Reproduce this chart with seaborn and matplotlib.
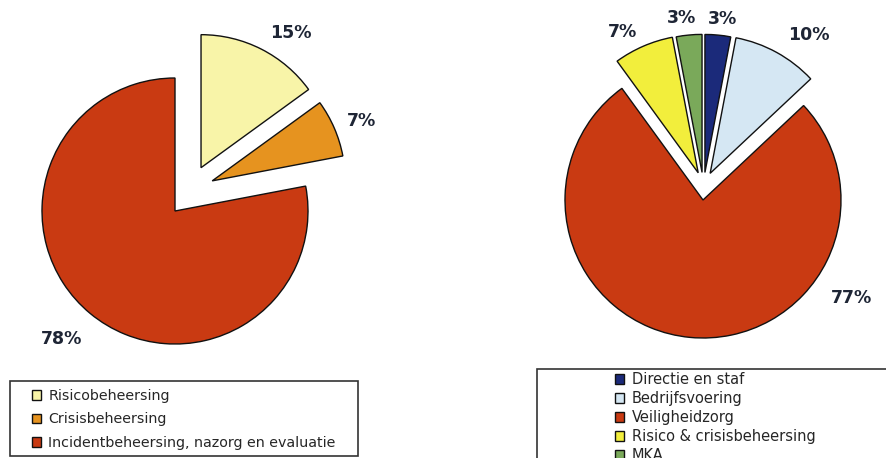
import numpy as np
import matplotlib
matplotlib.use("Agg")
import matplotlib.pyplot as plt
from matplotlib.patches import Rectangle
import seaborn as sns

# left pie: risicobeheersing / crisisbeheersing / incidentbeheersing
left_labels = ["Risicobeheersing", "Crisisbeheersing",
               "Incidentbeheersing, nazorg en evaluatie"]
left_values = [15, 7, 78]
left_colors = ["#f8f4a8", "#e6931f", "#c93a12"]

# right pie: organisation parts
right_labels = ["Directie en staf", "Bedrijfsvoering", "Veiligheidzorg",
                "Risico & crisisbeheersing", "MKA"]
right_values = [3, 10, 77, 7, 3]
right_colors = ["#1b2a7a", "#d5e7f3", "#c93a12", "#f2ee3c", "#7aa95a"]

W, H = 887, 458
sns.set_theme(style="white")
plt.rcParams['font.family'] = ['DejaVu Sans']

fig = plt.figure(figsize=(W / 100, H / 100), dpi=100)
fig.patch.set_facecolor("white")

PCT_COLOR = "#1e2535"


def pie_axes(cx, cy, r, span=1.6):
    # cx, cy in pixels from top-left; one data unit == r pixels
    half = span * r
    ax = fig.add_axes([(cx - half) / W, (H - cy - half) / H, 2 * half / W, 2 * half / H])
    return ax


def draw_pie(ax, values, colors, explode, exp_dir, lab_dist, lab_shift):
    wedges, _ = ax.pie(values, colors=colors, startangle=90,
                       counterclock=False, radius=1.0,
                       wedgeprops=dict(edgecolor="#111111", linewidth=1.0))
    # pull slices out, direction given per slice (None = mid angle)
    for w, e, d in zip(wedges, explode, exp_dir):
        if e == 0:
            continue
        a = np.deg2rad((w.theta1 + w.theta2) / 2 if d is None else d)
        w.set_center((e * np.cos(a), e * np.sin(a)))
    ax.set_xlim(-1.6, 1.6)
    ax.set_ylim(-1.6, 1.6)
    ax.set_aspect("equal")
    ax.axis("off")
    for w, v, d, s in zip(wedges, values, lab_dist, lab_shift):
        ang = np.deg2rad((w.theta1 + w.theta2) / 2 + s)
        cx, cy = w.center
        ax.text(cx + d * np.cos(ang), cy + d * np.sin(ang), f"{v}%",
                ha="center", va="center", fontsize=12.5, fontweight="bold",
                color=PCT_COLOR)
    return wedges


ax_l = pie_axes(175, 211, 133)
wl = draw_pie(ax_l, left_values, left_colors, [0.38, 0.36, 0], [59, 39, None],
              [1.22, 1.21, 1.29], [-6.7, -1.6, -2])

ax_r = pie_axes(703, 200, 138)
wr = draw_pie(ax_r, right_values, right_colors, [0.2, 0.2, 0, 0.2, 0.2],
              [86, 75, None, 100, 92],
              [1.12, 1.23, 1.29, 1.16, 1.13], [-1.3, -6.6, 62, 5, 2])

# legend boxes
fig.patches.append(Rectangle((10 / W, (H - 456) / H), 348 / W, 75 / H,
                             transform=fig.transFigure, fill=False,
                             edgecolor="#333333", linewidth=1.2))
fig.patches.append(Rectangle((537 / W, (H - 475) / H), 380 / W, 106 / H,
                             transform=fig.transFigure, fill=False,
                             edgecolor="#333333", linewidth=1.2))

leg_kw = dict(loc="upper left", frameon=False, handlelength=0.65,
              handleheight=0.65, handletextpad=0.5, borderpad=0, borderaxespad=0)
fig.legend(wl, left_labels, bbox_to_anchor=(32 / W, (H - 389) / H),
           fontsize=10.25, labelspacing=0.66, **leg_kw)
fig.legend(wr, right_labels, bbox_to_anchor=(615 / W, (H - 372) / H),
           fontsize=10.5, labelspacing=0.28, **leg_kw)

fig.savefig("out.png", dpi=100)
plt.close(fig)
